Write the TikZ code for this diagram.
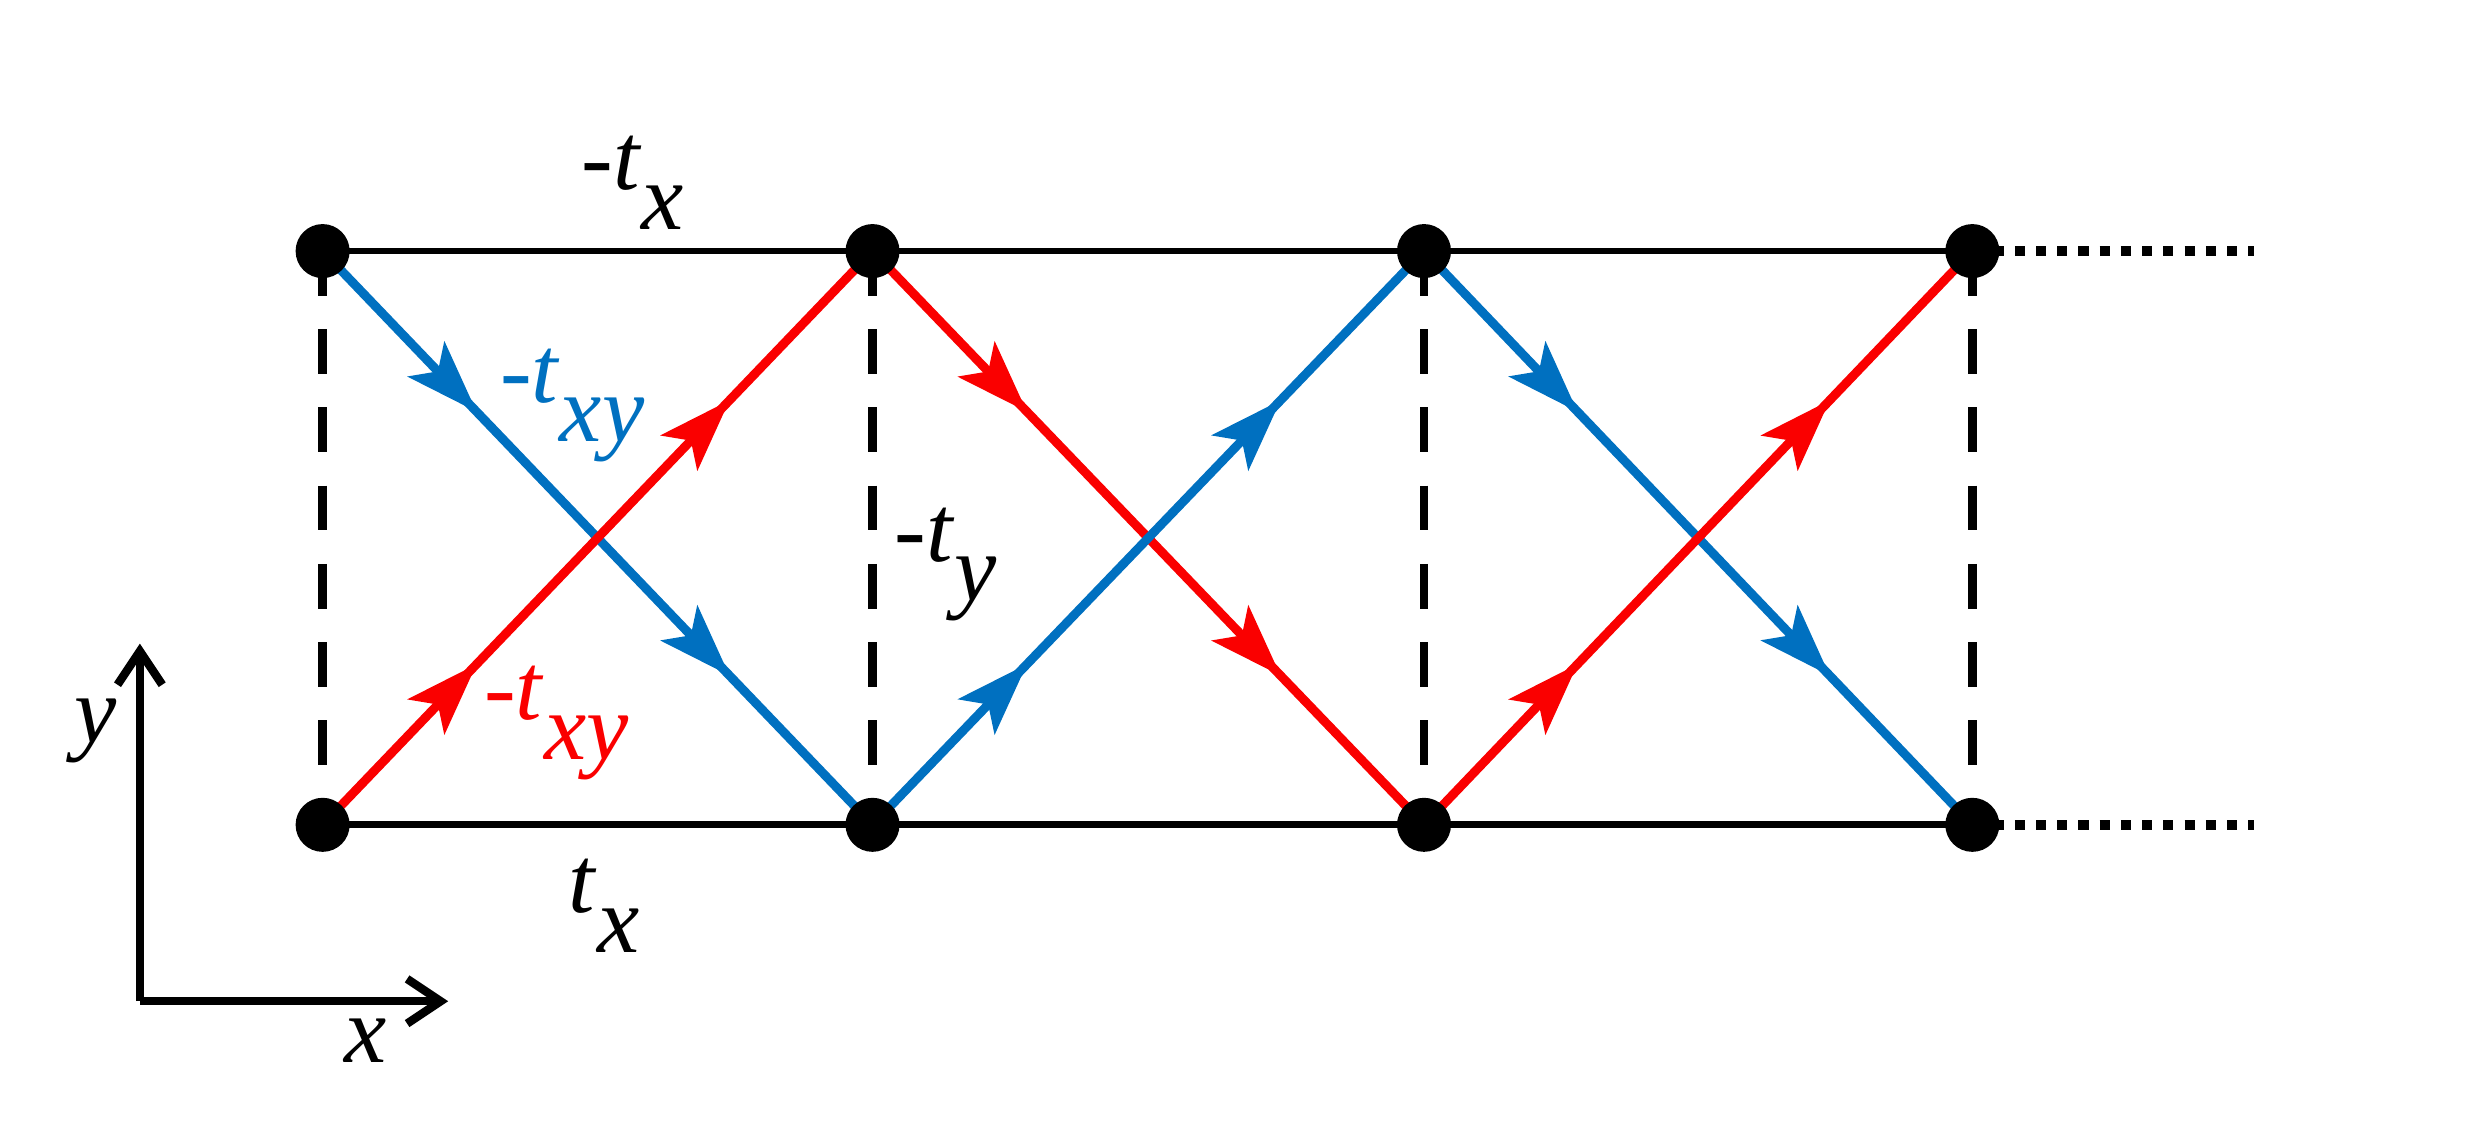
\documentclass[tikz,border=0pt]{standalone}
\usepackage{fontspec}
\setmainfont{Liberation Serif}
\usetikzlibrary{positioning,decorations.markings,arrows.meta}
\definecolor{hblue}{RGB}{0,112,192}
\definecolor{hred}{RGB}{250,0,0}
\newcommand{\hop}[2]{\textit{#1}\raisebox{-0.9ex}{\textit{#2}}}
\tikzset{
  bond/.style={line width=1.2pt},
  vbond/.style={line width=1.6pt, dash pattern=on 8pt off 6pt},
  diag/.style={line width=1.6pt, postaction={decorate}, decoration={markings,
      mark=at position 0.28 with {\arrow{Stealth[length=13pt,width=9pt,inset=3pt]}},
      mark=at position 0.74 with {\arrow{Stealth[length=13pt,width=9pt,inset=3pt]}}}},
  site/.style={circle, fill=black, inner sep=0pt, minimum size=0.34cm},
  lbl/.style={font=\fontsize{17}{20}\selectfont}
}
\begin{document}
\begin{tikzpicture}
\useasboundingbox (0,0) rectangle (15.68,7.05);
\foreach \i/\x in {1/2.03,2/5.49,3/8.96,4/12.41}{
  \coordinate (t\i) at (\x,5.47);
  \coordinate (b\i) at (\x,1.86);
}
\coordinate (tend) at (14.18,5.47);
\coordinate (bend) at (14.18,1.86);
% horizontal bonds
\draw[bond] (t1) -- (t4);
\draw[bond] (b1) -- (b4);
\draw[line width=1.8pt, dotted] (t4) -- (tend);
\draw[line width=1.8pt, dotted] (b4) -- (bend);
% vertical bonds
\foreach \i in {1,...,4} \draw[vbond] (t\i) -- (b\i);
% diagonal hoppings
\draw[diag, hblue] (t1) -- (b2);
\draw[diag, hred] (b1) -- (t2);
\draw[diag, hred] (t2) -- (b3);
\draw[diag, hblue] (b2) -- (t3);
\draw[diag, hblue] (t3) -- (b4);
\draw[diag, hred] (b3) -- (t4);
% sites
\foreach \i in {1,...,4}{
  \node[site] (st\i) at (t\i) {};
  \node[site] (sb\i) at (b\i) {};
}
% labels
\node[lbl] (ltx) at (3.98,5.9) {\hop{-t}{x}};
\node[lbl] (lbx) at (3.8,1.35) {\hop{t}{x}};
\node[lbl] (lty) at (5.95,3.5) {\hop{-t}{y}};
\node[lbl, hblue] (lbxy) at (3.6,4.5) {\hop{-t}{xy}};
\node[lbl, hred] (lrxy) at (3.5,2.5) {\hop{-t}{xy}};
% axes
\coordinate (o) at (0.88,0.75);
\coordinate (ay) at (0.88,3.0);
\coordinate (ax) at (2.82,0.75);
\draw[line width=1.5pt, -{Straight Barb[length=6pt,width=8pt]}] (o) -- (ay);
\draw[line width=1.5pt, -{Straight Barb[length=6pt,width=8pt]}] (o) -- (ax);
\node[lbl] (ly) at (0.6,2.45) {\textit{y}};
\node[lbl] (lx) at (2.3,0.5) {\textit{x}};
\end{tikzpicture}
\end{document}
